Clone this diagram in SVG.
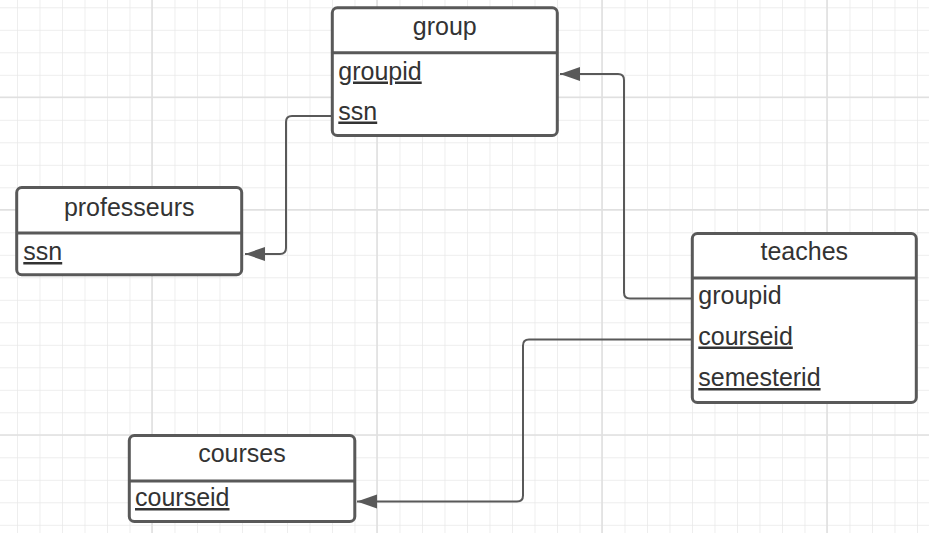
<svg xmlns="http://www.w3.org/2000/svg" width="929" height="533" viewBox="0 0 929 533">
  <defs>
    <style>
      .box { fill: #ffffff; stroke: #595959; stroke-width: 3; }
      .div { stroke: #595959; stroke-width: 3; }
      .title { font-family: "Liberation Sans", Arial, sans-serif; font-size: 25px; fill: #333333; text-anchor: middle; }
      .field { font-family: "Liberation Sans", Arial, sans-serif; font-size: 25px; fill: #333333; }
      .u { text-decoration: underline; }
      .conn { fill: none; stroke: #595959; stroke-width: 2; }
    </style>
    <pattern id="grid" patternUnits="userSpaceOnUse" x="17" y="7.3" width="22.5" height="22.5">
      <path d="M0,0 V22.5 M0,0 H22.5" stroke="#e8e8e8" stroke-width="1.4" fill="none"/>
    </pattern>
    <marker id="arrow" markerUnits="userSpaceOnUse" markerWidth="22" markerHeight="16" refX="20" refY="7" orient="auto">
      <path d="M0,0 L20,7 L0,14 Z" fill="#595959"/>
    </marker>
  </defs>

  <rect width="929" height="533" fill="#ffffff"/>
  <rect width="929" height="533" fill="url(#grid)"/>
  <g id="grid-major" stroke="#e0e0e0" stroke-width="1.6">
    <line x1="152" y1="0" x2="152" y2="533"/>
    <line x1="377" y1="0" x2="377" y2="533"/>
    <line x1="602" y1="0" x2="602" y2="533"/>
    <line x1="827" y1="0" x2="827" y2="533"/>
    <line x1="0" y1="97.3" x2="929" y2="97.3"/>
    <line x1="0" y1="209.8" x2="929" y2="209.8"/>
    <line x1="0" y1="435" x2="929" y2="435"/>
  </g>

  <g id="connectors">
    <path class="conn" d="M692,298.5 H630 Q624,298.5 624,292.5 V80 Q624,74 618,74 H560" marker-end="url(#arrow)"/>
    <path class="conn" d="M692,339.5 H529 Q523,339.5 523,345.5 V495.5 Q523,501.5 517,501.5 H357" marker-end="url(#arrow)"/>
    <path class="conn" d="M332,116 H292 Q286,116 286,122 V248 Q286,254 280,254 H245" marker-end="url(#arrow)"/>
  </g>

  <g id="group">
    <rect class="box" x="332.3" y="7.8" width="225" height="127.7" rx="5"/>
    <line class="div" x1="332.3" y1="52.8" x2="557.3" y2="52.8"/>
    <text class="title" x="444.8" y="35">group</text>
    <text class="field u" x="338.3" y="79.5">groupid</text>
    <text class="field u" x="338.3" y="119.5">ssn</text>
  </g>

  <g id="professeurs">
    <rect class="box" x="16.7" y="187.5" width="225" height="87.2" rx="5"/>
    <line class="div" x1="16.7" y1="233" x2="241.7" y2="233"/>
    <text class="title" x="129.2" y="215.5">professeurs</text>
    <text class="field u" x="23.3" y="260">ssn</text>
  </g>

  <g id="teaches">
    <rect class="box" x="692.3" y="233.5" width="224" height="169" rx="5"/>
    <line class="div" x1="692.3" y1="278" x2="916.3" y2="278"/>
    <text class="title" x="804.3" y="260">teaches</text>
    <text class="field" x="698.3" y="303.5">groupid</text>
    <text class="field u" x="698.3" y="344.5">courseid</text>
    <text class="field u" x="698.3" y="386">semesterid</text>
  </g>

  <g id="courses">
    <rect class="box" x="129.3" y="435.5" width="225.5" height="86" rx="5"/>
    <line class="div" x1="129.3" y1="481" x2="354.8" y2="481"/>
    <text class="title" x="242" y="462">courses</text>
    <text class="field u" x="135" y="506">courseid</text>
  </g>
</svg>
